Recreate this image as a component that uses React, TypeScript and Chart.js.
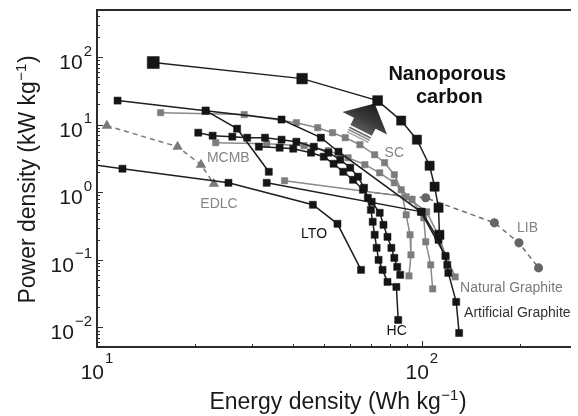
import { useEffect, useRef } from "react";
import { Chart, registerables } from "chart.js";

Chart.register(...registerables);

// Ragone plot: energy density (Wh/kg) vs power density (kW/kg)

const nanoporousE = [14.9, 42.8, 73.1, 86.4, 96.6, 105.7, 109.5, 112.6, 113.3];
const nanoporousP = [83, 48.0, 22.7, 11.5, 6.0, 2.47, 1.21, 0.59, 0.235];

const artificialE = [11.57, 21.6, 37.0, 48.9, 55.4, 99.3, 118.2, 120.7, 127.6, 130.3];
const artificialP = [22.7, 16.1, 11.9, 6.42, 3.98, 0.514, 0.1147, 0.0642, 0.0239, 0.00829];

const hardCarbonSteepE = [21.6, 27.0, 33.8];
const hardCarbonSteepP = [16.1, 8.72, 2.01];

const softCarbonE = [15.7, 28.4, 41.1, 47.8, 53.1, 58.1, 64.5, 71.6, 76.8, 82.3, 86.4, 89.5, 92.0, 92.6, 91.3];
const softCarbonP = [15.06, 14.1, 10.7, 9.03, 7.61, 6.42, 5.05, 3.59, 2.74, 1.82, 1.09, 0.464, 0.235, 0.1186, 0.0579];

const mcmbE = [23.2, 33.3, 43.4, 51.6, 59.3, 66.8, 74.2, 82.3, 93.3, 101.4, 102.8, 106.5, 108.0];
const mcmbP = [5.41, 5.23, 4.89, 4.12, 3.24, 2.56, 1.94, 1.38, 0.774, 0.419, 0.185, 0.0843, 0.0372];

const naturalE = [37.8, 89.5, 103.5, 112.6, 119.0, 126.7];
const naturalP = [1.48, 0.858, 0.514, 0.227, 0.1108, 0.056];

const graphiteBlackE = [33.3, 100, 112.6, 119.8];
const graphiteBlackP = [1.38, 0.514, 0.198, 0.0843];

const hcAE = [20.5, 22.7, 26.1, 29.0, 32.9, 37.0, 41.1, 46.5, 51.6, 56.1, 60.2, 63.6, 66.4, 68.2, 69.7, 70.6, 71.6, 72.6, 73.6, 75.7, 78.4, 83.5, 84.6];
const hcAP = [7.61, 6.87, 6.64, 6.42, 6.42, 6.0, 5.6, 4.72, 3.85, 3.03, 2.31, 1.7, 1.166, 0.829, 0.55, 0.366, 0.235, 0.1506, 0.1, 0.0711, 0.0472, 0.0398, 0.0129];

const hcBE = [31.5, 36.5, 40.2, 45.6, 49.9, 53.5, 57.3, 61.4, 65.9, 70.1, 74.2, 76.2, 78.4, 80.6, 82.3, 84.0, 85.8];
const hcBP = [4.72, 4.56, 4.41, 3.85, 3.36, 2.64, 2.01, 1.53, 1.09, 0.723, 0.497, 0.33, 0.219, 0.1506, 0.107, 0.0788, 0.06];

const ltoE = [8.29, 11.98, 25.4, 46.2, 55.0, 65.0];
const ltoP = [2.83, 2.23, 1.38, 0.653, 0.3415, 0.0711];

const edlcE = [10.72, 17.7, 20.9, 22.9];
const edlcP = [9.66, 4.72, 2.56, 1.336];

const libE = [71.6, 102.8, 167.3, 199.1, 228.8];
const libP = [0.983, 0.829, 0.353, 0.1786, 0.0761];

// axis ranges and decade tick labels
const xMin = 10;
const xMax = 283.9;
const yMin = 0.00514;
const yMax = 497;
const xDecades = [1, 2];
const xExpLabels = ["1", "2"];
const yDecades = [-2, -1, 0, 1, 2];
const yExpLabels = ["\u22122", "\u22121", "0", "1", "2"];

// text annotations placed in data coordinates
const labelText = ["Nanoporous", "carbon", "SC", "MCMB", "EDLC", "LTO", "HC", "LIB", "Natural Graphite", "Artificial Graphite"];
const labelE = [119.8, 121.5, 76.8, 21.8, 20.8, 42.5, 77.9, 196.4, 131.2, 134.9];
const labelP = [46.4, 21.2, 3.36, 2.83, 0.589, 0.212, 0.00774, 0.26, 0.0336, 0.0143];
const labelColor = ["#111", "#111", "#858585", "#858585", "#858585", "#111", "#111", "#858585", "#7a7a7a", "#333"];
const labelBold = [true, true, false, false, false, false, false, false, false, false];
const labelCenter = [true, true, false, false, false, false, false, false, false, false];

const arrowTipE = 71.6;
const arrowTipP = 20.5;

const FONT = '"Liberation Sans", Arial, Helvetica, sans-serif';

const pts = (e: number[], p: number[]) => e.map((x, i) => ({ x, y: p[i] }));

const BLACK = "#151515";
const GRAY = "#808080";

function blackSeries(e: number[], p: number[], radius: number | number[] = 5) {
  return {
    data: pts(e, p),
    showLine: true,
    borderColor: "#1e1e1e",
    borderWidth: 1.5,
    backgroundColor: BLACK,
    pointBackgroundColor: BLACK,
    pointBorderColor: BLACK,
    pointBorderWidth: 0.5,
    pointStyle: "rect",
    pointRadius: radius,
    tension: 0,
  };
}

function graySeries(e: number[], p: number[], radius: number | number[] = 4.5) {
  return {
    data: pts(e, p),
    showLine: true,
    borderColor: "#8a8a8a",
    borderWidth: 1.5,
    backgroundColor: GRAY,
    pointBackgroundColor: "#7c7c7c",
    pointBorderColor: "#7c7c7c",
    pointBorderWidth: 0.5,
    pointStyle: "rect",
    pointRadius: radius,
    tension: 0,
  };
}

function drawPower(ctx: CanvasRenderingContext2D, exp: string, x: number, baseY: number, expY: number, align: "right" | "center") {
  ctx.font = `21px ${FONT}`;
  const wb = ctx.measureText("10").width;
  ctx.font = `15px ${FONT}`;
  const we = ctx.measureText(exp).width;
  const total = wb + 1 + we;
  const left = align === "right" ? x - total : x - total / 2;
  ctx.textAlign = "left";
  ctx.textBaseline = "alphabetic";
  ctx.font = `21px ${FONT}`;
  ctx.fillText("10", left, baseY);
  ctx.font = `15px ${FONT}`;
  ctx.fillText(exp, left + wb + 1, expY);
}

function drawTitle(ctx: CanvasRenderingContext2D, main: string, sup: string, tail: string, cx: number, baseY: number) {
  const big = `23px ${FONT}`;
  const small = `15px ${FONT}`;
  ctx.font = big;
  const w1 = ctx.measureText(main).width;
  const w3 = ctx.measureText(tail).width;
  ctx.font = small;
  const w2 = ctx.measureText(sup).width;
  const total = w1 + w2 + w3 + 1;
  let x = cx - total / 2;
  ctx.textAlign = "left";
  ctx.textBaseline = "alphabetic";
  ctx.font = big;
  ctx.fillText(main, x, baseY);
  x += w1 + 0.5;
  ctx.font = small;
  ctx.fillText(sup, x, baseY - 9);
  x += w2 + 0.5;
  ctx.font = big;
  ctx.fillText(tail, x, baseY);
}

const arrowPlugin = {
  id: "boostArrow",
  beforeDatasetsDraw(chart: any) {
    const ctx: CanvasRenderingContext2D = chart.ctx;
    const xs = chart.scales.x;
    const ys = chart.scales.y;
    const tx = xs.getPixelForValue(arrowTipE);
    const ty = ys.getPixelForValue(arrowTipP);
    const d = [0.451, -0.893];
    const n = [0.893, 0.451];
    const pt = (a: number, b: number): [number, number] => [tx + a * d[0] + b * n[0], ty + a * d[1] + b * n[1]];
    ctx.save();
    const g0 = pt(0, 0);
    const g1 = pt(-30, 0);
    const grad = ctx.createLinearGradient(g0[0], g0[1], g1[0], g1[1]);
    grad.addColorStop(0, "#1f1f1f");
    grad.addColorStop(0.6, "#3a3a3a");
    grad.addColorStop(1, "#5a5a5a");
    ctx.fillStyle = grad;
    ctx.beginPath();
    const poly: [number, number][] = [pt(0, 0), pt(-22, 25), pt(-22, 12), pt(-30, 12), pt(-30, -12), pt(-22, -12), pt(-22, -25)];
    poly.forEach(([px, py], i) => (i === 0 ? ctx.moveTo(px, py) : ctx.lineTo(px, py)));
    ctx.closePath();
    ctx.fill();
    const stripes: [number, string][] = [[-32.5, "#6a6a6a"], [-35, "#8a8a8a"], [-37.5, "#a8a8a8"]];
    ctx.lineWidth = 1.5;
    for (const [a, col] of stripes) {
      const s0 = pt(a, -12);
      const s1 = pt(a, 12);
      ctx.strokeStyle = col;
      ctx.beginPath();
      ctx.moveTo(s0[0], s0[1]);
      ctx.lineTo(s1[0], s1[1]);
      ctx.stroke();
    }
    ctx.restore();
  },
};

const axesPlugin = {
  id: "logFrame",
  afterDraw(chart: any) {
    const ctx: CanvasRenderingContext2D = chart.ctx;
    const { left, right, top, bottom } = chart.chartArea;
    const xs = chart.scales.x;
    const ys = chart.scales.y;
    ctx.save();

    // frame: left, bottom and top edges
    ctx.strokeStyle = "#2b2b2b";
    ctx.lineWidth = 2;
    ctx.beginPath();
    ctx.moveTo(right + 2, top);
    ctx.lineTo(left, top);
    ctx.lineTo(left, bottom);
    ctx.lineTo(right + 2, bottom);
    ctx.stroke();

    // inward ticks
    ctx.lineWidth = 1;
    ctx.beginPath();
    for (let dec = 0; dec <= 3; dec++) {
      for (let m = 1; m <= 9; m++) {
        const v = m * Math.pow(10, dec);
        if (v < xMin || v > xMax) continue;
        const px = Math.round(xs.getPixelForValue(v)) + 0.5;
        const len = m === 1 ? 6 : 3;
        ctx.moveTo(px, bottom);
        ctx.lineTo(px, bottom - len);
      }
    }
    for (let dec = -3; dec <= 2; dec++) {
      for (let m = 1; m <= 9; m++) {
        const v = m * Math.pow(10, dec);
        if (v < yMin || v > yMax) continue;
        const py = Math.round(ys.getPixelForValue(v)) + 0.5;
        const len = m === 1 ? 6 : 3;
        ctx.moveTo(left, py);
        ctx.lineTo(left + len, py);
      }
    }
    ctx.stroke();

    // decade labels
    ctx.fillStyle = "#1a1a1a";
    xDecades.forEach((dec, i) => {
      const px = xs.getPixelForValue(Math.pow(10, dec));
      drawPower(ctx, xExpLabels[i], px, bottom + 32, bottom + 16, "center");
    });
    yDecades.forEach((dec, i) => {
      const py = ys.getPixelForValue(Math.pow(10, dec));
      drawPower(ctx, yExpLabels[i], left - 5, py + 12, py - 1.5, "right");
    });

    // axis titles
    drawTitle(ctx, "Energy density (Wh kg", "\u22121", ")", (left + right) / 2 + 5, 409);
    ctx.save();
    ctx.translate(35, (top + bottom) / 2 + 1);
    ctx.rotate(-Math.PI / 2);
    drawTitle(ctx, "Power density (kW kg", "\u22121", ")", 0, 0);
    ctx.restore();

    // series annotations
    labelText.forEach((t, i) => {
      const px = xs.getPixelForValue(labelE[i]);
      const py = ys.getPixelForValue(labelP[i]);
      ctx.font = labelBold[i] ? `bold 20px ${FONT}` : `14px ${FONT}`;
      ctx.fillStyle = labelColor[i];
      ctx.textAlign = labelCenter[i] ? "center" : "left";
      ctx.textBaseline = "alphabetic";
      ctx.fillText(t, px, py);
    });
    ctx.restore();
  },
};

export default function App() {
  const ref = useRef<HTMLCanvasElement>(null);

  useEffect(() => {
    const canvas = ref.current;
    if (!canvas) return;
    const libRadius = libP.map((_, i) => (i === 0 ? 0 : 3.8));
    const chart = new Chart(canvas, {
      type: "scatter",
      data: {
        datasets: [
          blackSeries(nanoporousE, nanoporousP, [8.5, 7.5, 7, 6.5, 6.5, 6.5, 6.5, 6.5, 6.5]),
          blackSeries(artificialE, artificialP),
          blackSeries(hardCarbonSteepE, hardCarbonSteepP),
          blackSeries(hcAE, hcAP),
          blackSeries(hcBE, hcBP),
          blackSeries(graphiteBlackE, graphiteBlackP),
          blackSeries(ltoE, ltoP),
          graySeries(softCarbonE, softCarbonP),
          graySeries(mcmbE, mcmbP),
          graySeries(naturalE, naturalP),
          {
            data: pts(libE, libP),
            showLine: true,
            borderColor: "#6e6e6e",
            borderWidth: 1.5,
            borderDash: [5, 4],
            pointStyle: "circle",
            pointRadius: libRadius,
            pointBackgroundColor: "#666",
            pointBorderColor: "#666",
            tension: 0,
          },
          {
            data: pts(edlcE, edlcP),
            showLine: true,
            borderColor: "#7a7a7a",
            borderWidth: 1.5,
            borderDash: [5, 4],
            pointStyle: "triangle",
            pointRadius: 4.5,
            pointBackgroundColor: "#7a7a7a",
            pointBorderColor: "#7a7a7a",
            tension: 0,
          },
        ] as any,
      },
      options: {
        animation: false,
        responsive: false,
        devicePixelRatio: 1,
        layout: { padding: { left: 97, top: 10, right: 0, bottom: 69 } },
        plugins: { legend: { display: false }, tooltip: { enabled: false } },
        scales: {
          x: { type: "logarithmic", min: xMin, max: xMax, display: false },
          y: { type: "logarithmic", min: yMin, max: yMax, display: false },
        },
      },
      plugins: [arrowPlugin, axesPlugin],
    });
    return () => chart.destroy();
  }, []);

  return (
    <div style={{ position: "absolute", left: 0, top: 0, width: 578, height: 416, background: "#fff", overflow: "hidden" }}>
      <canvas ref={ref} width={578} height={416} style={{ display: "block", width: 578, height: 416 }} />
    </div>
  );
}
